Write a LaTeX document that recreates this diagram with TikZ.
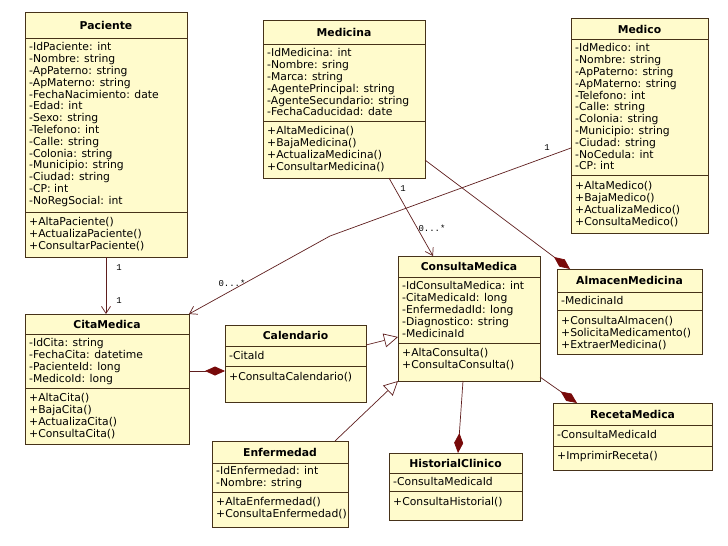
\documentclass[tikz,border=0pt]{standalone}
\usepackage{fontspec}
\setmainfont{DejaVu Sans}
\newfontfamily\labfont{Liberation Mono}
\usetikzlibrary{arrows.meta}
\definecolor{boxfill}{RGB}{255,251,204}
\definecolor{boxline}{RGB}{70,50,25}
\definecolor{conn}{RGB}{95,30,30}
\definecolor{dia}{RGB}{120,10,10}
\tikzset{
 umlbox/.style={draw=boxline, fill=boxfill, line width=0.9pt, anchor=north west, inner sep=0pt, outer sep=0pt},
 sepline/.style={draw=boxline, line width=0.9pt},
 ttl/.style={font=\fontsize{10.8}{11.8}\bfseries\selectfont, inner sep=0pt, anchor=center},
 txt/.style={font=\fontsize{10.8}{11.8}\selectfont, align=left, inner sep=0pt, anchor=north west},
 conline/.style={draw=conn, line width=0.7pt},
 comp/.style={conline, -{Diamond[length=20pt,width=9pt,fill=dia,color=dia]}},
 gen/.style={conline, -{Triangle[open,length=14pt,width=14pt,fill=white]}},
 assoc/.style={conline, -{Straight Barb[length=7pt,width=9pt]}},
 mult/.style={font=\labfont\fontsize{9}{10}\selectfont, inner sep=0pt}
}
\newcommand\clsbox[7]{%
 \node[umlbox, minimum width={#4-#2}, minimum height={#5-#3}] (#1) at (#2,#3) {};
 \draw[sepline] (#2,#6) -- (#4,#6) (#2,#7) -- (#4,#7);
}
\begin{document}
\begin{tikzpicture}[x=1pt,y=-1pt]
\useasboundingbox[fill=white] (0,0) rectangle (728,546);

% Paciente
\clsbox{pac}{25}{12}{187}{257}{38}{212}
\node[ttl] (pac-t) at (106,25) {Paciente};
\node[txt] (pac-a) at (29,42.5) {\strut-IdPaciente: int\\-Nombre: string\\-ApPaterno: string\\-ApMaterno: string\\-FechaNacimiento: date\\-Edad: int\\-Sexo: string\\-Telefono: int\\-Calle: string\\-Colonia: string\\-Municipio: string\\-Ciudad: string\\-CP: int\\-NoRegSocial: int};
\node[txt] (pac-m) at (29,217.5) {\strut+AltaPaciente()\\+ActualizaPaciente()\\+ConsultarPaciente()};

% Medicina
\clsbox{medi}{263}{20}{425}{178}{44}{121}
\node[ttl] (medi-t) at (344,32) {Medicina};
\node[txt] (medi-a) at (267,48.5) {\strut-IdMedicina: int\\-Nombre: sring\\-Marca: string\\-AgentePrincipal: string\\-AgenteSecundario: string\\-FechaCaducidad: date};
\node[txt] (medi-m) at (267,126.5) {\strut+AltaMedicina()\\+BajaMedicina()\\+ActualizaMedicina()\\+ConsultarMedicina()};

% Medico
\clsbox{medc}{571}{18}{708}{233}{39}{175}
\node[ttl] (medc-t) at (639.5,29) {Medico};
\node[txt] (medc-a) at (575,43.5) {\strut-IdMedico: int\\-Nombre: string\\-ApPaterno: string\\-ApMaterno: string\\-Telefono: int\\-Calle: string\\-Colonia: string\\-Municipio: string\\-Ciudad: string\\-NoCedula: int\\-CP: int};
\node[txt] (medc-m) at (575,181.5) {\strut+AltaMedico()\\+BajaMedico()\\+ActualizaMedico()\\+ConsultaMedico()};

% CitaMedica
\clsbox{cita}{25}{314}{189}{444}{334}{388}
\node[ttl] (cita-t) at (107,324) {CitaMedica};
\node[txt] (cita-a) at (29,338.5) {\strut-IdCita: string\\-FechaCita: datetime\\-PacienteId: long\\-MedicoId: long};
\node[txt] (cita-m) at (29,393.5) {\strut+AltaCita()\\+BajaCita()\\+ActualizaCita()\\+ConsultaCita()};

% Calendario
\clsbox{cal}{225}{325}{366}{402}{346}{366}
\node[ttl] (cal-t) at (295.5,335.5) {Calendario};
\node[txt] (cal-a) at (229,351.5) {\strut-CitaId};
\node[txt] (cal-m) at (229,372.5) {\strut+ConsultaCalendario()};

% ConsultaMedica
\clsbox{cons}{398}{256}{540}{381}{277}{343}
\node[ttl] (cons-t) at (469,266.5) {ConsultaMedica};
\node[txt] (cons-a) at (402,281.5) {\strut-IdConsultaMedica: int\\-CitaMedicaId: long\\-EnfermedadId: long\\-Diagnostico: string\\-MedicinaId};
\node[txt] (cons-m) at (402,348.5) {\strut+AltaConsulta()\\+ConsultaConsulta()};

% AlmacenMedicina
\clsbox{alm}{557}{269}{702}{354}{292}{310}
\node[ttl] (alm-t) at (629.5,280.5) {AlmacenMedicina};
\node[txt] (alm-a) at (561,296) {\strut-MedicinaId};
\node[txt] (alm-m) at (561,316.5) {\strut+ConsultaAlmacen()\\+SolicitaMedicamento()\\+ExtraerMedicina()};

% RecetaMedica
\clsbox{rec}{553}{403}{712}{470}{425}{446}
\node[ttl] (rec-t) at (632.5,414) {RecetaMedica};
\node[txt] (rec-a) at (557,430.5) {\strut-ConsultaMedicaId};
\node[txt] (rec-m) at (557,451.5) {\strut+ImprimirReceta()};

% HistorialClinico
\clsbox{his}{389}{453}{522}{520}{473}{491}
\node[ttl] (his-t) at (455.5,463) {HistorialClinico};
\node[txt] (his-a) at (393,477.5) {\strut-ConsultaMedicaId};
\node[txt] (his-m) at (393,497.5) {\strut+ConsultaHistorial()};

% Enfermedad
\clsbox{enf}{212}{441}{348}{527}{463}{492}
\node[ttl] (enf-t) at (280,452) {Enfermedad};
\node[txt] (enf-a) at (216,466.5) {\strut-IdEnfermedad: int\\-Nombre: string};
\node[txt] (enf-m) at (216,497.5) {\strut+AltaEnfermedad()\\+ConsultaEnfermedad()};

% connectors
\draw[assoc] (pac.south) -- (pac.south |- cita.north);
\node[mult] (m1) at (119,268) {1};
\node[mult] (m2) at (119,301) {1};

\coordinate (bend) at (330,236);
\draw[assoc] ([yshift=-22.5pt]medc.west) -- (bend) -- (cita.north east);
\node[mult] (m3) at (547,148) {1};
\node[mult] (m4) at (232,283) {0...*};

\draw[assoc] ([xshift=45pt]medi.south) -- ([xshift=-36pt]cons.north);
\node[mult] (m5) at (403,189) {1};
\node[mult] (m6) at (432,228) {0...*};

\draw[comp] ([yshift=-61pt]medi.east) -- ([xshift=13pt]alm.north west);

\draw[comp] ([yshift=8pt]cita.east) -- ([yshift=8pt]cita.east -| cal.west);

\draw[gen] ([yshift=18.5pt]cal.east) -- ([yshift=-18.5pt]cons.west);
\draw[gen] ([xshift=-13pt]enf.north east) -- (cons.south west);

\draw[comp] ([xshift=-6pt]cons.south) -- ([xshift=2.5pt]his.north);
\draw[comp] ([yshift=4pt]cons.south east) -- ([xshift=24pt]rec.north west);
\end{tikzpicture}
\end{document}
